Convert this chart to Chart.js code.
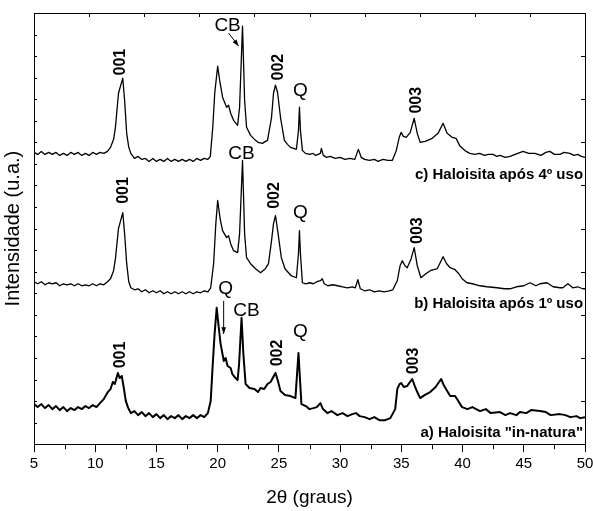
<!DOCTYPE html>
<html>
<head>
<meta charset="utf-8">
<script src="https://cdn.jsdelivr.net/npm/chart.js@4.4.1/dist/chart.umd.min.js"></script>
<style>
  html, body { margin: 0; padding: 0; background: #fff; }
  #wrap { width: 593px; height: 511px; }
</style>
</head>
<body>
<div id="wrap"><canvas id="xrd" width="593" height="511"></canvas></div>
<script>
// XRD patterns, 2theta (graus) vs intensity (arbitrary units, stacked traces)

// c) Haloisita apos 4o uso
var cX = [5.0,5.3,5.6,5.9,6.2,6.5,6.8,7.1,7.4,7.7,8.0,8.3,8.6,8.9,9.2,9.5,9.8,10.1,10.4,10.7,11.0,11.25,11.5,11.65,11.9,12.25,12.4,12.57,12.74,12.91,13.2,13.5,13.8,14.1,14.4,14.7,15.0,15.3,15.6,15.9,16.2,16.5,16.8,17.1,17.4,17.7,18.0,18.3,18.6,18.9,19.2,19.4,19.6,19.76,20.0,20.16,20.4,20.73,20.89,21.06,21.3,21.63,21.79,22.03,22.2,22.36,22.69,23.09,23.3,23.66,23.9,24.07,24.4,24.56,24.72,24.89,25.13,25.45,25.7,25.95,26.2,26.43,26.6,26.68,26.76,26.92,27.17,27.5,27.8,28.0,28.2,28.39,28.47,28.63,28.9,29.2,29.6,30.0,30.4,30.8,31.2,31.49,31.73,32.0,32.4,32.8,33.1,33.5,33.9,34.26,34.59,34.83,34.99,35.16,35.4,35.73,36.05,36.3,36.54,36.95,37.52,38.0,38.41,38.74,39.15,39.47,39.8,40.29,40.6,41.0,41.4,41.8,42.1,42.49,42.8,43.06,43.5,43.88,44.3,44.94,45.4,45.9,46.4,46.8,47.13,47.5,47.95,48.3,48.76,49.1,49.4,49.7,50.0];
var cY = [291,289,292,289,291,289,291,288,290,288,291,289,291,288,290,288,291,289,291,290,292,296,304,316,350,365,343,310,296,290,285,287,284,285,282,285,282,284,282,285,282,284,282,284,282,284,282,285,283,285,284,287,316,350,377,363,346,336,338,330,323,318,336,417,343,316,308,303,301,300,302,303,326,350,358,351,326,303,299,296,295,294,313,336,313,293,290,289,290,288,289,290,295,288,286,287,285,286,284,285,284,294,286,284,283,284,282,284,283,283,293,306,311,307,306,311,325,310,301,302,305,310,320,310,306,305,297,292,290,289,290,288,289,289,287,288,286,287,289,292,290,290,288,291,292,289,289,291,290,288,289,287,286];

// b) Haloisita apos 1o uso
var bX = [5.0,5.3,5.6,5.9,6.2,6.5,6.8,7.1,7.4,7.7,8.0,8.3,8.6,8.9,9.2,9.5,9.8,10.1,10.4,10.7,11.0,11.25,11.5,11.65,11.9,12.25,12.4,12.57,12.74,12.91,13.2,13.5,13.8,14.1,14.4,14.7,15.0,15.3,15.6,15.9,16.2,16.5,16.8,17.1,17.4,17.7,18.0,18.3,18.6,18.9,19.2,19.43,19.67,19.85,20.0,20.2,20.4,20.73,20.89,21.06,21.3,21.63,21.79,22.03,22.2,22.36,22.69,23.09,23.5,23.9,24.15,24.4,24.56,24.72,24.9,25.2,25.5,26.0,26.43,26.6,26.68,26.76,26.92,27.2,27.5,27.82,28.1,28.39,28.55,28.7,29.0,29.4,29.8,30.2,30.6,31.0,31.24,31.45,31.65,32.0,32.4,32.8,33.2,33.6,34.0,34.3,34.67,34.9,35.07,35.3,35.48,35.8,36.05,36.3,36.6,37.0,37.36,37.93,38.41,38.7,38.99,39.39,39.7,39.96,40.37,40.8,41.43,42.0,42.82,43.4,43.88,44.4,45.0,45.51,46.0,46.32,46.89,47.4,47.95,48.19,48.6,49.0,49.4,49.82,50.0];
var bY = [162,160,162,159,161,160,161,158,160,159,160,158,160,158,159,158,160,158,160,159,162,165,173,185,215,231,210,180,162,156,154,155,152,154,151,153,151,153,150,152,150,152,150,152,150,152,150,152,151,153,152,156,180,220,243,225,213,206,208,200,193,191,210,283,210,186,180,175,171,175,180,203,220,228,213,186,175,168,166,190,213,190,161,160,161,160,162,163,165,160,158,159,158,157,156,157,156,164,155,153,154,152,153,152,153,154,163,178,183,178,176,185,196,178,166,170,173,175,187,180,176,174,170,165,161,160,158,157,156,155,155,157,158,161,158,160,161,157,156,156,160,156,157,155,155];

// a) Haloisita "in-natura"
var aX = [5.0,5.3,5.6,5.9,6.2,6.5,6.8,7.1,7.4,7.7,8.0,8.3,8.6,8.9,9.2,9.5,9.8,10.1,10.46,10.7,11.03,11.25,11.44,11.6,11.85,12.0,12.17,12.35,12.5,12.7,12.91,13.2,13.5,13.8,14.1,14.4,14.7,15.0,15.3,15.6,15.9,16.2,16.5,16.8,17.1,17.4,17.7,18.0,18.3,18.6,18.9,19.2,19.43,19.6,19.75,19.92,20.1,20.24,20.5,20.65,20.81,21.06,21.2,21.46,21.63,21.75,21.95,22.1,22.28,22.6,23.0,23.3,23.5,23.8,24.07,24.32,24.5,24.72,24.9,25.13,25.5,25.95,26.35,26.6,26.84,27.2,27.5,27.82,28.1,28.39,28.6,28.96,29.3,29.78,30.2,30.6,31.0,31.3,31.6,32.0,32.4,32.8,33.2,33.69,34.1,34.5,34.67,34.85,34.99,35.2,35.48,35.7,35.89,36.1,36.3,36.54,36.9,37.36,37.8,38.25,38.5,38.99,39.39,39.6,39.96,40.4,40.8,41.43,41.9,42.3,43.06,43.5,43.88,44.4,44.69,45.2,45.6,46.32,46.8,47.2,47.95,48.4,48.8,49.3,49.6,50.0];
var aY = [40,37,40,36,39,35,38,34,37,33,36,34,37,35,38,36,39,37,42,45,52,55,62,60,71,66,68,55,43,36,31,33,29,32,28,31,27,30,26,29,25,28,26,29,25,28,26,29,26,29,27,31,43,80,110,136,115,100,83,86,78,76,70,66,64,80,126,90,60,56,55,52,56,55,60,62,66,71,64,53,49,48,46,91,40,38,35,36,37,41,35,31,33,29,31,28,30,31,28,27,25,27,24,24,26,35,55,60,61,57,58,62,65,58,52,46,49,52,57,65,58,48,48,44,37,35,37,33,35,31,32,29,31,29,32,31,34,33,32,29,30,29,27,28,26,27];

var seriesX = [cX, bX, aX];
var seriesY = [cY, bY, aY];
var seriesWidth = [1.3, 1.3, 2.0];

// peak and curve labels: text, 2theta, intensity, kind
var notes = [
    ["001", 12.09, 381, "hkl"], ["CB", 20.81, 417, "ph"], ["002", 24.97, 376, "hkl"],
    ["Q", 26.76, 352, "ph"], ["003", 36.21, 343, "hkl"], ["c) Haloisita após 4º uso", 49.84, 269, "name"],
    ["001", 12.33, 253, "hkl"], ["CB", 21.95, 290, "ph"], ["002", 24.64, 248, "hkl"],
    ["Q", 26.76, 231, "ph"], ["003", 36.30, 213, "hkl"], ["b) Haloisita após 1º uso", 49.84, 140, "name"],
    ["001", 12.09, 89, "hkl"], ["Q", 20.65, 155, "ph"], ["CB", 22.36, 133, "ph"], ["002", 24.89, 91, "hkl"],
    ["Q", 26.76, 112, "ph"], ["003", 35.97, 83, "hkl"], ["a) Haloisita \"in-natura\"", 49.84, 11, "name"]
];
// arrows: from (x, y) to (x, y)
var arrows = [[20.89, 410, 21.71, 397], [20.49, 143, 20.49, 110]];

var FONT = '"Liberation Sans", Arial, sans-serif';

var datasets = seriesX.map(function(xs, i) {
    return {
        data: xs.map(function(x, j) { return {x: x, y: seriesY[i][j]}; }),
        borderColor: '#000',
        borderWidth: seriesWidth[i],
        borderJoinStyle: 'round',
        pointRadius: 0,
        tension: 0,
        fill: false
    };
});

var framePlugin = {
    id: 'frame',
    afterDraw: function(chart) {
        var ctx = chart.ctx;
        var a = chart.chartArea;
        var xs = chart.scales.x, ys = chart.scales.y;
        ctx.save();
        ctx.strokeStyle = '#000';
        ctx.lineWidth = 1;
        ctx.strokeRect(Math.round(a.left) + 0.5, Math.round(a.top) + 0.5,
            Math.round(a.right - a.left), Math.round(a.bottom - a.top));
        ctx.beginPath();
        var v, p;
        // minor ticks bottom
        for (v = 7.5; v < 50; v += 5) {
            p = Math.round(xs.getPixelForValue(v)) + 0.5;
            ctx.moveTo(p, a.bottom); ctx.lineTo(p, a.bottom + 5);
        }
        // top ticks
        for (v = 9.5; v < 50; v += 4.5) {
            p = Math.round(xs.getPixelForValue(v)) + 0.5;
            ctx.moveTo(p, a.top); ctx.lineTo(p, a.top + 4);
        }
        // left inner ticks
        for (v = 21.5; v < 430; v += 21.5) {
            p = Math.round(ys.getPixelForValue(v)) + 0.5;
            ctx.moveTo(a.left, p); ctx.lineTo(a.left + 3, p);
        }
        // right inner ticks
        for (v = 43; v < 430; v += 43) {
            p = Math.round(ys.getPixelForValue(v)) + 0.5;
            ctx.moveTo(a.right, p); ctx.lineTo(a.right - 4, p);
        }
        ctx.stroke();

        // arrows
        arrows.forEach(function(ar) {
            var x1 = xs.getPixelForValue(ar[0]), y1 = ys.getPixelForValue(ar[1]);
            var x2 = xs.getPixelForValue(ar[2]), y2 = ys.getPixelForValue(ar[3]);
            var ang = Math.atan2(y2 - y1, x2 - x1);
            ctx.beginPath();
            ctx.moveTo(x1, y1); ctx.lineTo(x2, y2);
            ctx.stroke();
            ctx.beginPath();
            ctx.moveTo(x2, y2);
            ctx.lineTo(x2 - 7 * Math.cos(ang - 0.35), y2 - 7 * Math.sin(ang - 0.35));
            ctx.lineTo(x2 - 7 * Math.cos(ang + 0.35), y2 - 7 * Math.sin(ang + 0.35));
            ctx.closePath();
            ctx.fillStyle = '#000';
            ctx.fill();
        });

        // labels
        ctx.fillStyle = '#000';
        notes.forEach(function(n) {
            var px = xs.getPixelForValue(n[1]), py = ys.getPixelForValue(n[2]);
            ctx.save();
            ctx.textBaseline = 'middle';
            if (n[3] === 'hkl') {
                ctx.font = 'bold 16px ' + FONT;
                ctx.translate(px, py);
                ctx.rotate(-Math.PI / 2);
                ctx.textAlign = 'center';
                ctx.fillText(n[0], 0, 0);
            } else if (n[3] === 'ph') {
                ctx.font = '19px ' + FONT;
                ctx.textAlign = 'center';
                ctx.fillText(n[0], px, py);
            } else {
                ctx.font = 'bold 15px ' + FONT;
                ctx.textAlign = 'right';
                ctx.fillText(n[0], px, py);
            }
            ctx.restore();
        });
        ctx.restore();
    }
};

new Chart(document.getElementById('xrd'), {
    type: 'line',
    data: { datasets: datasets },
    options: {
        responsive: false,
        animation: false,
        devicePixelRatio: 1,
        layout: { padding: { top: 13, right: 8, bottom: 0, left: 0 } },
        plugins: { legend: { display: false }, tooltip: { enabled: false } },
        scales: {
            x: {
                type: 'linear',
                min: 5,
                max: 50,
                border: { display: false },
                grid: { drawOnChartArea: false, tickLength: 8, tickColor: '#000' },
                ticks: { stepSize: 5, color: '#000', font: { family: FONT, size: 15 }, padding: 3, maxRotation: 0 },
                title: { display: true, text: '2θ (graus)', color: '#000', font: { family: FONT, size: 19 }, padding: { top: 10, bottom: 2 } },
                afterFit: function(scale) { scale.paddingRight = 0; scale.paddingLeft = 0; }
            },
            y: {
                type: 'linear',
                min: 0,
                max: 430,
                border: { display: false },
                grid: { display: false, drawTicks: false },
                ticks: { display: false },
                title: { display: true, text: 'Intensidade (u.a.)', color: '#000', font: { family: FONT, size: 20 }, padding: { top: 1, bottom: 9 } }
            }
        }
    },
    plugins: [framePlugin]
});
</script>
</body>
</html>
